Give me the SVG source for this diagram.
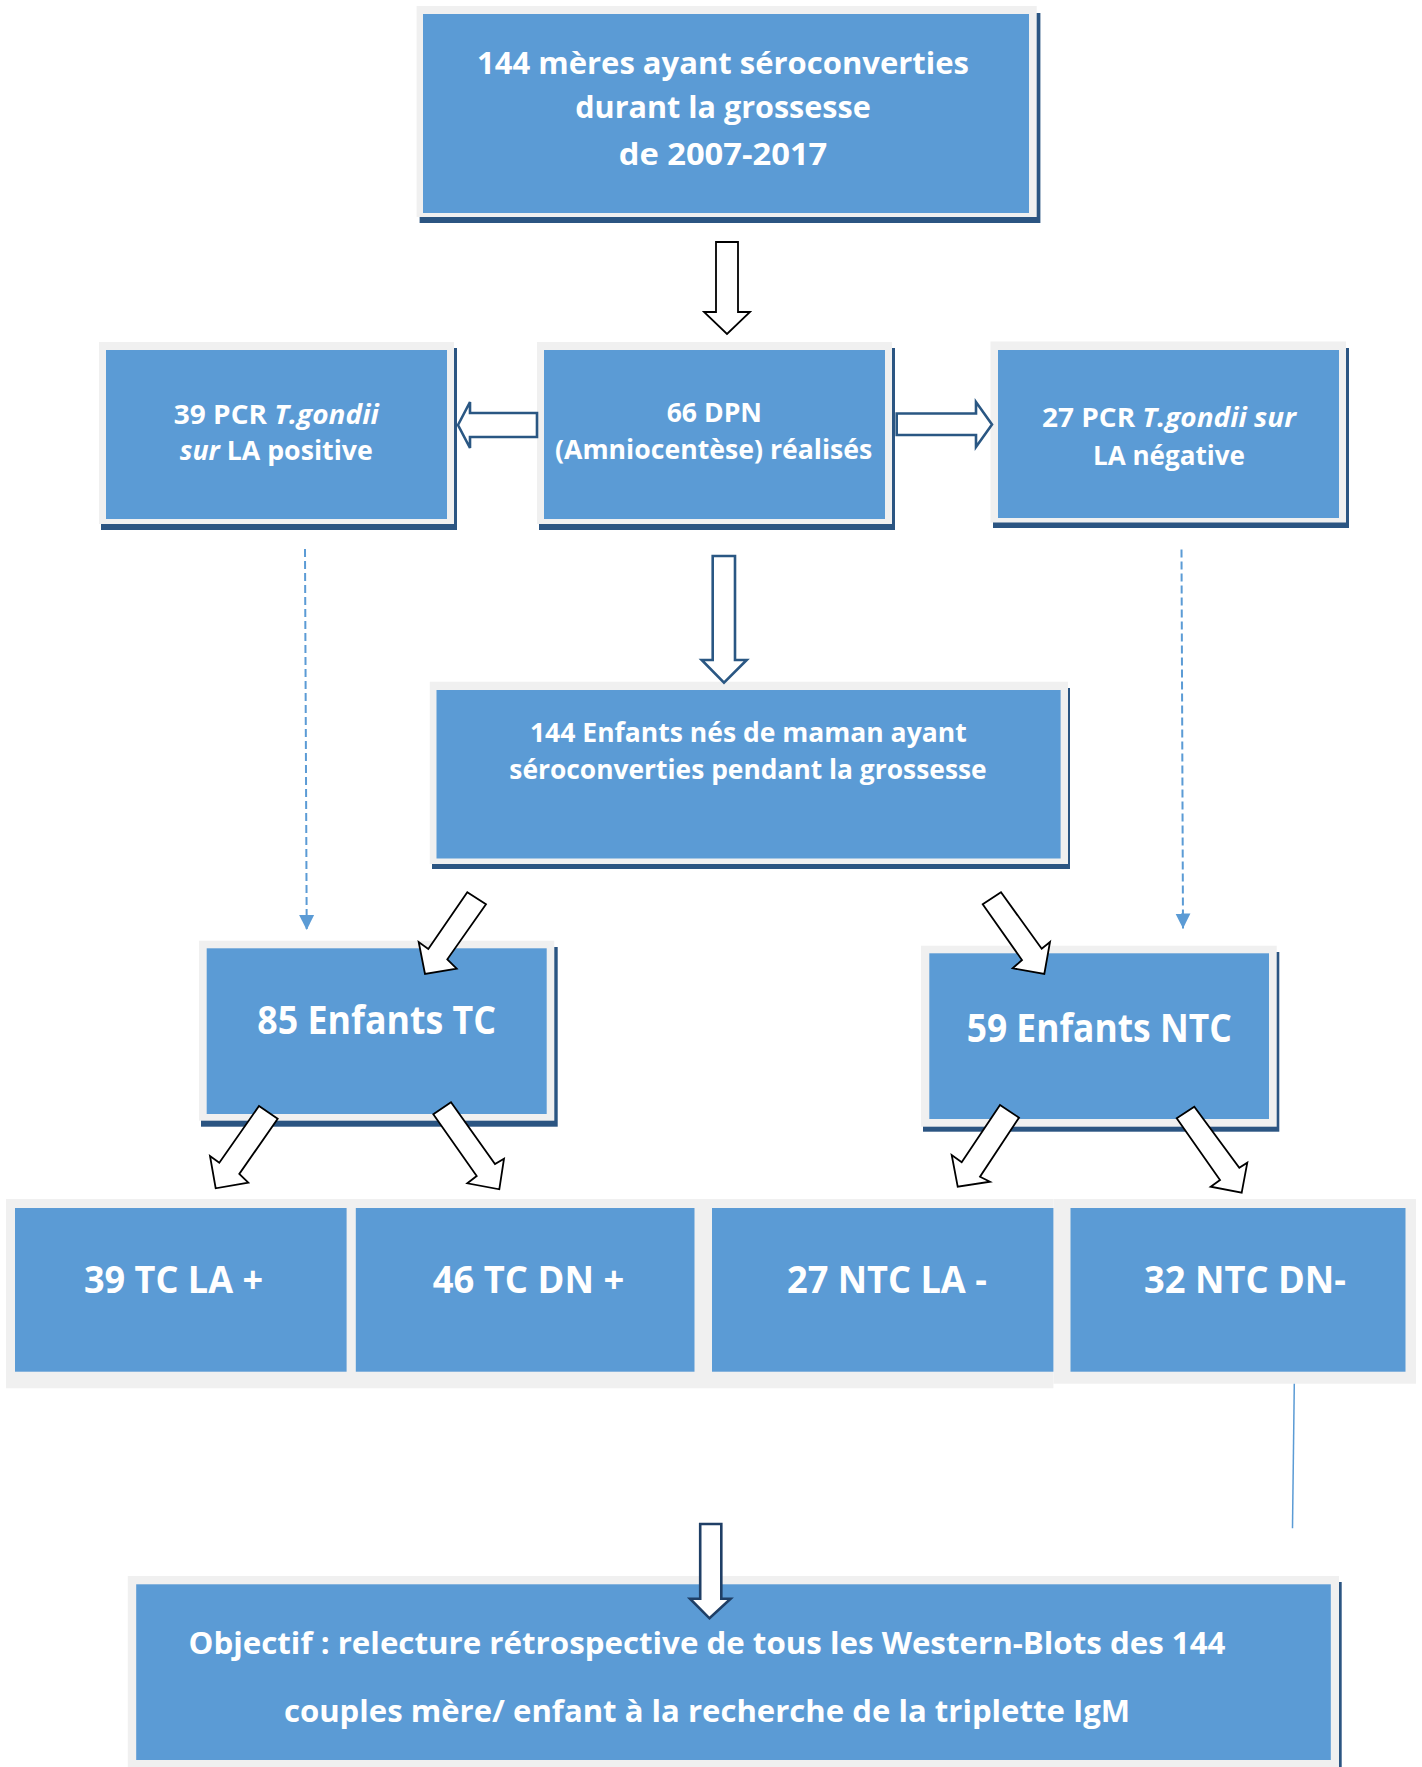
<svg xmlns="http://www.w3.org/2000/svg" width="1422" height="1767" viewBox="0 0 1422 1767">
<defs>
<style>
.g{fill:#f0f0f0}
.b{fill:#5b9bd5}
.s{fill:#2b5582}
.t{font-family:'Open Sans','DejaVu Sans',sans-serif;font-weight:bold;fill:#ffffff;text-anchor:middle}
.i{font-style:italic}
.ba{fill:#ffffff;stroke:#000000;stroke-width:1.8;stroke-linejoin:miter}
.bb{fill:#ffffff;stroke:#2a5783;stroke-width:2.6;stroke-linejoin:miter}
.bc{fill:#ffffff;stroke:#1f3f66;stroke-width:2.6;stroke-linejoin:miter}
.d{stroke:#5b9bd5;stroke-width:2;stroke-dasharray:8 4;fill:none}
</style>
<marker id="dh" markerUnits="userSpaceOnUse" markerWidth="16" markerHeight="16" viewBox="0 0 16 16" refX="15" refY="8" orient="auto">
<path d="M0,0.5 L15,8 L0,15.5 z" fill="#5b9bd5"/>
</marker>
</defs>
<rect width="1422" height="1767" fill="#ffffff"/>

<g id="node-meres">
<rect class="s" x="419.6" y="13" width="620.8" height="210"/>
<rect class="g" x="416.6" y="6" width="620.1" height="211"/>
<rect class="b" x="423" y="14" width="606" height="199"/>
<text class="t" font-size="31"><tspan x="723" y="74" textLength="492" lengthAdjust="spacingAndGlyphs">144 mères ayant séroconverties</tspan><tspan x="723" y="118" textLength="295.5" lengthAdjust="spacingAndGlyphs">durant la grossesse</tspan><tspan x="723" y="165" textLength="208.6" lengthAdjust="spacingAndGlyphs">de 2007-2017</tspan></text>
</g>

<g id="node-pcr-pos">
<rect class="s" x="101" y="348" width="356" height="182"/>
<rect class="g" x="99" y="342" width="355" height="182"/>
<rect class="b" x="106" y="350" width="341" height="169"/>
<text class="t" font-size="26" x="276.3" y="424" textLength="205" lengthAdjust="spacingAndGlyphs">39 PCR <tspan class="i">T.gondii</tspan></text>
<text class="t" font-size="26" x="276.3" y="460" textLength="193" lengthAdjust="spacingAndGlyphs"><tspan class="i">sur</tspan> LA positive</text>
</g>

<g id="node-dpn">
<rect class="s" x="539" y="348" width="356" height="182"/>
<rect class="g" x="537" y="342" width="355" height="182"/>
<rect class="b" x="544" y="350" width="341" height="169"/>
<text class="t" font-size="26" x="714.3" y="421.7" textLength="95.3" lengthAdjust="spacingAndGlyphs">66 DPN</text>
<text class="t" font-size="26" x="713.7" y="459" textLength="317.3" lengthAdjust="spacingAndGlyphs">(Amniocentèse) réalisés</text>
</g>

<g id="node-pcr-neg">
<rect class="s" x="993" y="348" width="356" height="180"/>
<rect class="g" x="990.5" y="341.5" width="355.5" height="181"/>
<rect class="b" x="998" y="350" width="341" height="168"/>
<text class="t" font-size="26" x="1169" y="426.5" textLength="254" lengthAdjust="spacingAndGlyphs">27 PCR <tspan class="i">T.gondii sur</tspan></text>
<text class="t" font-size="26" x="1169" y="465" textLength="152" lengthAdjust="spacingAndGlyphs">LA négative</text>
</g>

<g id="node-enfants">
<rect class="s" x="432" y="688" width="638" height="181"/>
<rect class="g" x="429.8" y="681.7" width="638.2" height="182.3"/>
<rect class="b" x="436.5" y="690" width="624.1" height="168.5"/>
<text class="t" font-size="26" x="748.3" y="741.7" textLength="436.7" lengthAdjust="spacingAndGlyphs">144 Enfants nés de maman ayant</text>
<text class="t" font-size="26" x="748" y="779" textLength="477.4" lengthAdjust="spacingAndGlyphs">séroconverties pendant la grossesse</text>
</g>

<g id="node-tc">
<rect class="s" x="201" y="947" width="356.7" height="179.7"/>
<rect class="g" x="199" y="940.7" width="355.3" height="180"/>
<rect class="b" x="206.7" y="948.3" width="340" height="165.7"/>
<text class="t" font-size="39" x="376.7" y="1034.3" textLength="238.7" lengthAdjust="spacingAndGlyphs">85 Enfants TC</text>
</g>

<g id="node-ntc">
<rect class="s" x="923" y="952" width="356.3" height="179.7"/>
<rect class="g" x="921" y="945.7" width="355.7" height="181"/>
<rect class="b" x="929.3" y="953.3" width="339.7" height="165.7"/>
<text class="t" font-size="39" x="1099.2" y="1041.7" textLength="265" lengthAdjust="spacingAndGlyphs">59 Enfants NTC</text>
</g>

<g id="row-background">
<rect class="g" x="6" y="1199" width="1047.4" height="189.3"/>
<rect class="g" x="1053.4" y="1199" width="362.6" height="184.7"/>
</g>

<g id="node-tc-la">
<rect class="b" x="15" y="1208" width="331.6" height="163.7"/>
<text class="t" font-size="37" x="173.5" y="1293.3" textLength="179" lengthAdjust="spacingAndGlyphs">39 TC LA +</text>
</g>

<g id="node-tc-dn">
<rect class="b" x="355.8" y="1208" width="338.7" height="163.7"/>
<text class="t" font-size="37" x="528.5" y="1293.3" textLength="191.4" lengthAdjust="spacingAndGlyphs">46 TC DN +</text>
</g>

<g id="node-ntc-la">
<rect class="b" x="712" y="1208" width="341.4" height="163.7"/>
<text class="t" font-size="37" x="886.9" y="1293.3" textLength="199.8" lengthAdjust="spacingAndGlyphs">27 NTC LA -</text>
</g>

<g id="node-ntc-dn">
<rect class="b" x="1070.5" y="1208" width="335" height="163.7"/>
<text class="t" font-size="37" x="1245" y="1293.3" textLength="202" lengthAdjust="spacingAndGlyphs">32 NTC DN-</text>
</g>

<g id="node-objectif">
<rect class="s" x="1337" y="1582" width="4.7" height="185"/>
<rect class="g" x="127.8" y="1576" width="1211.2" height="191"/>
<rect class="b" x="136.2" y="1584.3" width="1194.6" height="175.7"/>
<text class="t" font-size="31" x="707" y="1654" textLength="1036.9" lengthAdjust="spacingAndGlyphs">Objectif : relecture rétrospective de tous les Western-Blots des 144</text>
<text class="t" font-size="31" x="707" y="1721.7" textLength="846.2" lengthAdjust="spacingAndGlyphs">couples mère/ enfant à la recherche de la triplette IgM</text>
</g>

<g id="connectors">
<polygon class="ba" points="716,242 738,242 738,312 750,312 727,334 704,312 716,312"/>
<polygon class="bb" points="458,425 470,402 470,413 537,413 537,437 470,437 470,448"/>
<polygon class="bb" points="896.7,413.5 976,413.5 976,402 992,424.5 976,447 976,435 896.7,435"/>
<polygon class="bb" points="712.7,556 735,556 735,660 746.7,660 724,682.7 701.7,660 712.7,660"/>
<line class="d" x1="305" y1="549" x2="306.7" y2="930" marker-end="url(#dh)"/>
<line class="d" x1="1181.5" y1="549.5" x2="1183" y2="928.5" marker-end="url(#dh)"/>
<polygon class="ba" points="425,974 418.7,942 428.3,949 467.3,892.3 486,904.3 447.3,959.3 456.7,968.7"/>
<polygon class="ba" points="1044.3,974 1050,942 1041.7,948.7 1001,892.3 982.7,904.3 1022,960 1012.7,968.3"/>
<polygon class="ba" points="215.7,1188.3 210,1156 219.3,1162.7 259,1106 277.7,1118.7 239.3,1174 248.3,1182.7"/>
<polygon class="ba" points="499.3,1189.3 504,1158.7 495,1164 451,1102.3 433.3,1114.3 476.7,1176 467.3,1183.3"/>
<polygon class="ba" points="957.7,1186.7 951.7,1155 961.7,1162.3 1000,1105 1019,1117.7 980,1176.7 990,1181.7"/>
<polygon class="ba" points="1241.7,1192.7 1247.3,1162.7 1239.3,1167.7 1194.3,1106.7 1176.7,1118.3 1220,1180 1210.7,1186.7"/>
<line x1="1294.3" y1="1383.7" x2="1292.5" y2="1528.3" stroke="#5b9bd5" stroke-width="1.5"/>
<polygon class="bc" points="700.2,1524 721.3,1524 721.3,1598.7 730.6,1598.7 709.5,1618.3 690,1598.7 700.2,1598.7"/>
</g>
</svg>
